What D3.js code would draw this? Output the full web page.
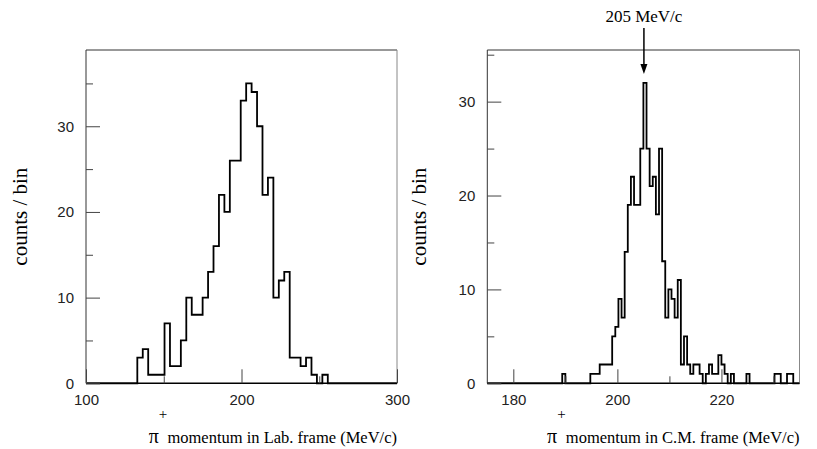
<!DOCTYPE html>
<html><head><meta charset="utf-8">
<script src="https://cdn.jsdelivr.net/npm/d3@7/dist/d3.min.js"></script>
<style>body{margin:0;background:#fff}svg{display:block}</style>
</head><body>
<svg id="c" width="817" height="449"></svg>
<script>
// Left panel: pi+ momentum in Lab frame, bins of 3.5 MeV/c starting at 133
const labBinStart = 133, labBinWidth = 3.5;
const labCounts = [3,4,1,1,1,7,2,2,5,10,8,8,10,13,16,22,20,26,26,33,35,34,30,22,24,10,12,13,3,3,2,3,1,0,1];
const labXTicks = [100, 200, 300];
const labYTicks = [0, 10, 20, 30];

// Right panel: pi+ momentum in C.M. frame, bins of 0.6 MeV/c from 175 to 235
const cmBinStart = 175, cmBinWidth = 0.6;
const cmCounts = [
  0,0,0,0,0,0,0,0,0,0, 0,0,0,0,0,0,0,0,0,0,
  0,0,0,0,1,0,0,0,0,0, 0,0,0,1,1,1,2,2,2,2,
  5,6,9,7,14,19,22,19,19,25, 32,25,21,22,18,25,13,7,10,9,
  7,11,2,5,2,1,2,2,1,0, 1,2,1,1,3,2,1,0,1,0,
  0,0,0,1,0,0,0,0,0,0, 0,0,1,1,0,0,1,1,0,0];
const cmXTicks = [180, 200, 220];
const cmYTicks = [0, 10, 20, 30];
const peakLabel = "205 MeV/c", peakValue = 205.1;

const svg = d3.select("#c");
const serif = "'Liberation Serif','Times New Roman',serif";
const sans = "'Liberation Sans',Arial,Helvetica,sans-serif";

function panel(o) {
  const x = d3.scaleLinear().domain(o.xDomain).range([o.left, o.right]);
  const y = d3.scaleLinear().domain(o.yDomain).range([o.bottom, o.top]);
  const g = svg.append("g");
  // histogram outline (step)
  const pts = [[o.xDomain[0], 0], [o.binStart, 0]];
  o.counts.forEach((c, i) => {
    const a = o.binStart + i * o.binWidth, b = a + o.binWidth;
    pts.push([a, c], [b, c]);
  });
  pts.push([o.binStart + o.counts.length * o.binWidth, 0], [o.xDomain[1], 0]);
  g.append("path").attr("d", d3.line().x(d => x(d[0])).y(d => y(d[1]))(pts))
    .attr("fill", "none").attr("stroke", "#000").attr("stroke-width", 1.8)
    .attr("stroke-linejoin", "miter");
  // frame
  g.append("path")
    .attr("d", `M${o.left},${o.bottom}V${o.top}H${o.right}`)
    .attr("fill", "none").attr("stroke", "#333").attr("stroke-width", 1);
  g.append("line").attr("x1", o.right).attr("x2", o.right).attr("y1", o.top).attr("y2", o.bottom)
    .attr("stroke", "#888").attr("stroke-width", 1);
  g.append("line").attr("x1", o.left).attr("x2", o.right).attr("y1", o.bottom).attr("y2", o.bottom)
    .attr("stroke", "#000").attr("stroke-width", 1.5);
  // y axis (inward ticks)
  const yMinor = d3.range(5, o.yDomain[1], 10);
  g.append("g").attr("transform", `translate(${o.left},0)`)
    .call(d3.axisRight(y).tickValues(o.yTicks).tickSize(14).tickFormat(""))
    .call(s => s.select(".domain").remove());
  g.append("g").attr("transform", `translate(${o.left},0)`)
    .call(d3.axisRight(y).tickValues(yMinor).tickSize(7).tickFormat(""))
    .call(s => s.select(".domain").remove());
  g.append("g").attr("transform", `translate(${o.left},0)`)
    .call(d3.axisLeft(y).tickValues(o.yTicks).tickSize(0).tickPadding(12))
    .call(s => s.select(".domain").remove())
    .selectAll("text").attr("font-family", sans).attr("font-size", 15).attr("fill", "#222");
  // x axis (inward ticks)
  g.append("g").attr("transform", `translate(0,${o.bottom})`)
    .call(d3.axisTop(x).tickValues(o.xTicks).tickSize(14).tickFormat(""))
    .call(s => s.select(".domain").remove());
  g.append("g").attr("transform", `translate(0,${o.bottom})`)
    .call(d3.axisTop(x).tickValues(o.xMinor).tickSize(7).tickFormat(""))
    .call(s => s.select(".domain").remove());
  g.append("g").attr("transform", `translate(0,${o.bottom})`)
    .call(d3.axisBottom(x).tickValues(o.xTicks).tickSize(0).tickPadding(11))
    .call(s => s.select(".domain").remove())
    .selectAll("text").attr("font-family", sans).attr("font-size", 15).attr("fill", "#222");
  g.selectAll(".tick line").attr("stroke", "#444");
  // axis titles
  g.append("text").attr("transform", `translate(${o.ylabX},${(o.top + o.bottom) / 2}) rotate(-90)`)
    .attr("text-anchor", "middle").attr("font-family", serif).attr("font-size", 21)
    .text("counts / bin");
  const t = g.append("text").attr("x", o.right).attr("y", 443)
    .attr("text-anchor", "end").attr("font-family", serif).attr("font-size", 16.5);
  t.append("tspan").attr("font-size", 20).text("π");
  t.append("tspan").attr("dy", -24).attr("font-size", 15).text("+");
  t.append("tspan").attr("dy", 24).attr("dx", -4).text(" " + o.xlab);
  return {x, y};
}

panel({xDomain: [100, 300], yDomain: [0, 38.9], left: 86, right: 397, top: 50, bottom: 383.3,
  counts: labCounts, binStart: labBinStart, binWidth: labBinWidth,
  xTicks: labXTicks, xMinor: [150, 250], yTicks: labYTicks,
  ylabX: 27, xlab: "momentum in Lab. frame (MeV/c)"});

const r = panel({xDomain: [175, 235], yDomain: [0, 35.5], left: 487.3, right: 799.5, top: 50, bottom: 383.3,
  counts: cmCounts, binStart: cmBinStart, binWidth: cmBinWidth,
  xTicks: cmXTicks, xMinor: [190, 210, 230], yTicks: cmYTicks,
  ylabX: 426, xlab: "momentum in C.M. frame (MeV/c)"});

// peak arrow + label
const ax = r.x(peakValue);
svg.append("line").attr("x1", ax).attr("x2", ax).attr("y1", 28).attr("y2", 66)
  .attr("stroke", "#000").attr("stroke-width", 1.5);
svg.append("path").attr("d", `M${ax - 3.5},64 L${ax + 3.5},64 L${ax},74 Z`).attr("fill", "#000");
svg.append("text").attr("x", ax).attr("y", 22).attr("text-anchor", "middle")
  .attr("font-family", serif).attr("font-size", 17).text(peakLabel);
</script>
</body></html>
